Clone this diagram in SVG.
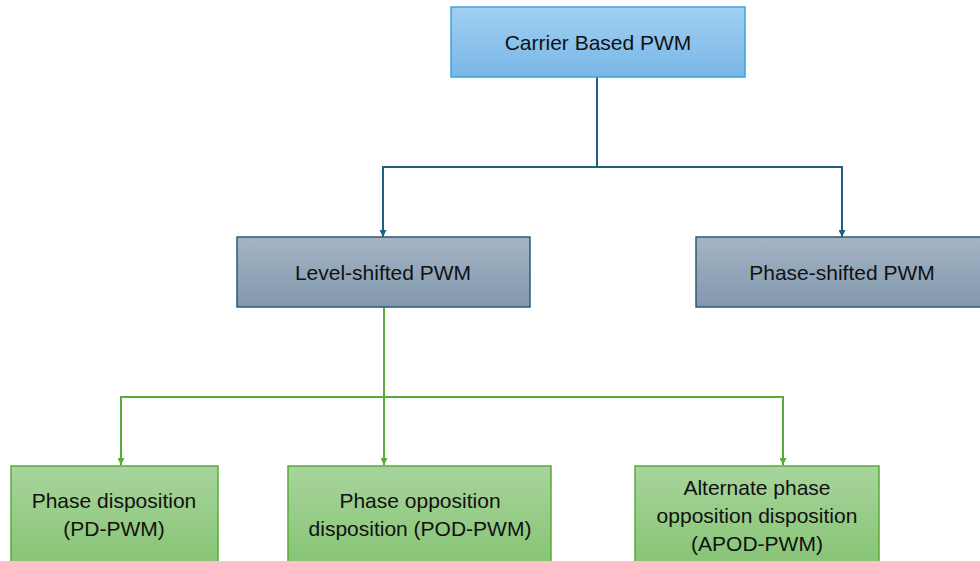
<svg xmlns="http://www.w3.org/2000/svg" width="980" height="561" viewBox="0 0 980 561">
<defs>
<linearGradient id="gBlue" x1="0" y1="0" x2="0" y2="1"><stop offset="0" stop-color="#a0cff2"/><stop offset="1" stop-color="#79b7e6"/></linearGradient>
<linearGradient id="gGrey" x1="0" y1="0" x2="0" y2="1"><stop offset="0" stop-color="#a4b4c4"/><stop offset="1" stop-color="#8298ae"/></linearGradient>
<linearGradient id="gGreen" x1="0" y1="0" x2="0" y2="1"><stop offset="0" stop-color="#a8d49c"/><stop offset="1" stop-color="#86c474"/></linearGradient>
<marker id="aBlue" viewBox="0 0 10 10" refX="10" refY="5" markerWidth="7" markerHeight="7" orient="auto" markerUnits="userSpaceOnUse"><path d="M0,0 L10,5 L0,10 z" fill="#215f80"/></marker>
<marker id="aGreen" viewBox="0 0 10 10" refX="10" refY="5" markerWidth="7" markerHeight="7" orient="auto" markerUnits="userSpaceOnUse"><path d="M0,0 L10,5 L0,10 z" fill="#5aaa3a"/></marker>
</defs>
<style>
text{font-family:"Liberation Sans",Arial,sans-serif;font-size:21px;fill:#111;text-anchor:middle}
.blue{fill:url(#gBlue);stroke:#3ea3da;stroke-width:1.5}
.grey{fill:url(#gGrey);stroke:#2d5a78;stroke-width:1.5}
.green{fill:url(#gGreen);stroke:#5aaa3a;stroke-width:1.5}
.cb{fill:none;stroke:#215f80;stroke-width:2}
.cg{fill:none;stroke:#5aaa3a;stroke-width:2}
</style>
<g id="connectors">
<path class="cb" d="M597,77 V167 H383 V237" marker-end="url(#aBlue)"/>
<path class="cb" d="M597,167 H842 V237" marker-end="url(#aBlue)"/>
<path class="cg" d="M384,307 V397 H121 V465" marker-end="url(#aGreen)"/>
<path class="cg" d="M384,397 V465" marker-end="url(#aGreen)"/>
<path class="cg" d="M384,397 H783 V465" marker-end="url(#aGreen)"/>
</g>
<g id="carrier">
<rect class="blue" x="451" y="7" width="294" height="70"/>
<text x="598" y="50">Carrier Based PWM</text>
</g>
<g id="level">
<rect class="grey" x="237" y="237" width="293" height="70"/>
<text x="383" y="280">Level-shifted PWM</text>
</g>
<g id="phase">
<rect class="grey" x="696" y="237" width="290" height="70"/>
<text x="842" y="280">Phase-shifted PWM</text>
</g>
<g id="pd">
<rect class="green" x="11" y="466" width="207" height="100"/>
<text x="114" y="508">Phase disposition</text>
<text x="114" y="536">(PD-PWM)</text>
</g>
<g id="pod">
<rect class="green" x="288" y="466" width="263" height="100"/>
<text x="420" y="508">Phase opposition</text>
<text x="420" y="536">disposition (POD-PWM)</text>
</g>
<g id="apod">
<rect class="green" x="635" y="466" width="244" height="100"/>
<text x="757" y="495">Alternate phase</text>
<text x="757" y="523">opposition disposition</text>
<text x="757" y="551">(APOD-PWM)</text>
</g>
</svg>
